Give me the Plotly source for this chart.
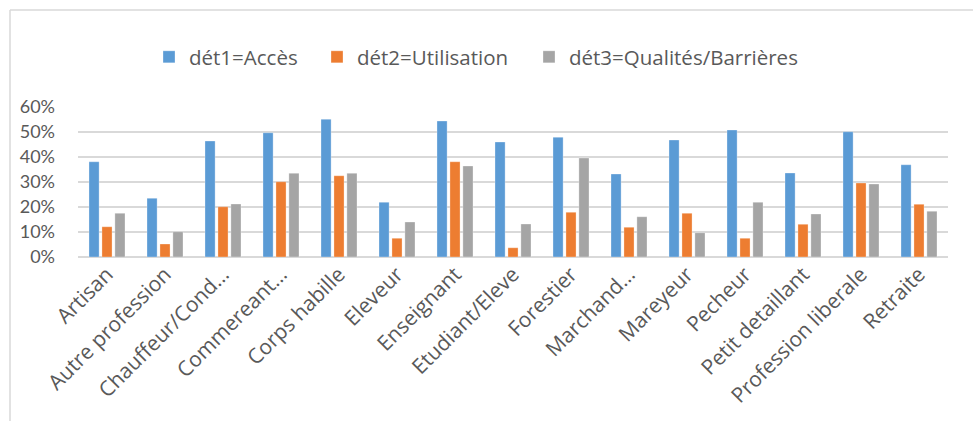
import plotly.graph_objects as go

categories = [
    "Artisan", "Autre profession", "Chauffeur/Cond…", "Commereant…", "Corps habille",
    "Eleveur", "Enseignant", "Etudiant/Eleve", "Forestier", "Marchand…",
    "Mareyeur", "Pecheur", "Petit detaillant", "Profession liberale", "Retraite",
]
acces = [0.381, 0.235, 0.464, 0.497, 0.551, 0.219, 0.544, 0.460, 0.479, 0.332,
         0.468, 0.508, 0.336, 0.501, 0.369]
utilisation = [0.121, 0.052, 0.201, 0.301, 0.325, 0.075, 0.381, 0.037, 0.179, 0.119,
               0.175, 0.075, 0.131, 0.296, 0.211]
qualites = [0.175, 0.101, 0.212, 0.335, 0.335, 0.140, 0.364, 0.132, 0.396, 0.161,
            0.097, 0.219, 0.172, 0.292, 0.183]

series_names = ["dét1=Accès", "dét2=Utilisation", "dét3=Qualités/Barrières"]
colors = ["#5B9BD5", "#ED7D31", "#A5A5A5"]
legend_widths = [123, 167, 245]

font_family = "'Open Sans', Lato, sans-serif"
text_color = "#595959"

fig = go.Figure()
for name, vals, col, lw in zip(series_names, [acces, utilisation, qualites], colors, legend_widths):
    fig.add_trace(go.Bar(
        x=categories, y=vals, name=name, legendwidth=lw,
        marker=dict(color=col, line=dict(color="rgba(255,255,255,0.6)", width=0.5)),
    ))

fig.update_layout(
    width=973, height=421,
    margin=dict(l=78, r=25, t=107, b=164),
    paper_bgcolor="white", plot_bgcolor="white",
    barmode="group", bargap=0.33, bargroupgap=0.22,
    font=dict(family=font_family, color=text_color),
    legend=dict(
        orientation="h", x=149 / 973, xref="container", xanchor="left",
        y=1 - 57 / 421, yref="container", yanchor="middle",
        font=dict(size=20.5, color=text_color),
        itemwidth=30, traceorder="normal",
    ),
    showlegend=True,
    xaxis=dict(
        tickangle=-45, tickfont=dict(size=21, color=text_color),
        showline=False, showgrid=False, ticks="",
    ),
    yaxis=dict(
        range=[0, 0.6], dtick=0.1, tickformat=".0%",
        tickfont=dict(size=18, color=text_color, family="Lato, sans-serif"),
        showgrid=True, gridcolor="#D9D9D9", gridwidth=1.5,
        zeroline=True, zerolinecolor="#D9D9D9", zerolinewidth=1.5,
        ticks="", ticklabelstandoff=22, showline=False,
    ),
    shapes=[
        dict(type="line", xref="paper", yref="paper", x0=-68 / 870, x1=1.1,
             y0=1 + 97 / 150, y1=1 + 97 / 150,
             line=dict(color="#D9D9D9", width=1.5)),
        dict(type="line", xref="paper", yref="paper", x0=-68 / 870, x1=-68 / 870,
             y0=1 + 97 / 150, y1=-1.2,
             line=dict(color="#D9D9D9", width=1.5)),
    ],
)

fig.write_html("out.html")
